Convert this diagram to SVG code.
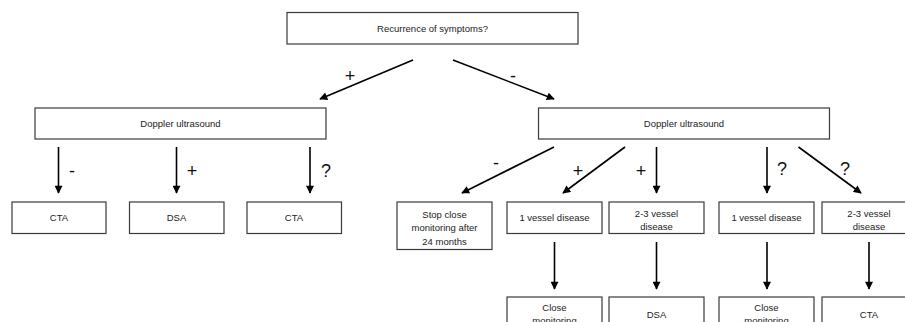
<svg xmlns="http://www.w3.org/2000/svg" width="905" height="322" viewBox="0 0 905 322">
<defs>
<style>
.box{fill:#fff;stroke:#3a3a3a;stroke-width:1.2}
.t{font-family:"Liberation Sans",Arial,sans-serif;font-size:9.5px;fill:#222;text-anchor:middle}
.lbl{font-family:"Liberation Sans",Arial,sans-serif;font-size:18px;fill:#111;text-anchor:middle}
.c{stroke:#000;stroke-width:1.6;fill:none;marker-end:url(#ah)}
</style>
<marker id="ah" viewBox="0 0 10 10" refX="9" refY="5" markerWidth="9" markerHeight="8" markerUnits="userSpaceOnUse" orient="auto">
<path d="M0,0 L10,5 L0,10 z" fill="#000"/>
</marker>
</defs>
<rect width="905" height="322" fill="#fff"/>
<g id="n-recurrence"><rect class="box" x="287" y="12.5" width="291" height="31.5"/><text class="t" x="432.5" y="31.5">Recurrence of symptoms?</text></g>
<g id="n-doppler-left"><rect class="box" x="35" y="108" width="291" height="31"/><text class="t" x="180.5" y="127">Doppler ultrasound</text></g>
<g id="n-doppler-right"><rect class="box" x="538.5" y="108" width="291" height="31"/><text class="t" x="684" y="127">Doppler ultrasound</text></g>
<g id="n-cta1"><rect class="box" x="12" y="202" width="94" height="31.5"/><text class="t" x="59" y="221">CTA</text></g>
<g id="n-dsa1"><rect class="box" x="129.5" y="202" width="94.5" height="31.5"/><text class="t" x="176.5" y="221">DSA</text></g>
<g id="n-cta2"><rect class="box" x="247" y="202" width="94.5" height="31.5"/><text class="t" x="294" y="221">CTA</text></g>
<g id="n-stop"><rect class="box" x="397" y="202" width="95" height="47.5"/><text class="t" x="444.5" y="217.5">Stop close</text><text class="t" x="444.5" y="231">monitoring after</text><text class="t" x="444.5" y="244.5">24 months</text></g>
<g id="n-1v-a"><rect class="box" x="507" y="202" width="95" height="31.5"/><text class="t" x="554.5" y="221">1 vessel disease</text></g>
<g id="n-23v-a"><rect class="box" x="609" y="202" width="95" height="31.5"/><text class="t" x="656.5" y="216.5">2-3 vessel</text><text class="t" x="656.5" y="229.5">disease</text></g>
<g id="n-1v-b"><rect class="box" x="719" y="202" width="95" height="31.5"/><text class="t" x="766.5" y="221">1 vessel disease</text></g>
<g id="n-23v-b"><rect class="box" x="822" y="202" width="95" height="31.5"/><text class="t" x="869" y="216.5">2-3 vessel</text><text class="t" x="869" y="229.5">disease</text></g>
<g id="n-close-a"><rect class="box" x="507" y="297" width="95" height="40"/><text class="t" x="554.5" y="311">Close</text><text class="t" x="554.5" y="324">monitoring</text></g>
<g id="n-dsa2"><rect class="box" x="609" y="297" width="95" height="40"/><text class="t" x="656.5" y="317.5">DSA</text></g>
<g id="n-close-b"><rect class="box" x="719" y="297" width="95" height="40"/><text class="t" x="766.5" y="311">Close</text><text class="t" x="766.5" y="324">monitoring</text></g>
<g id="n-cta3"><rect class="box" x="822" y="297" width="95" height="40"/><text class="t" x="869" y="317.5">CTA</text></g>
<g id="connectors">
<line class="c" x1="413" y1="60" x2="320" y2="99"/>
<line class="c" x1="453" y1="60" x2="554" y2="99"/>
<line class="c" x1="58.5" y1="147" x2="58.5" y2="193"/>
<line class="c" x1="176.5" y1="147" x2="176.5" y2="193"/>
<line class="c" x1="310" y1="147" x2="310" y2="193"/>
<line class="c" x1="554" y1="147" x2="462" y2="193"/>
<line class="c" x1="625" y1="147" x2="563" y2="193"/>
<line class="c" x1="656.5" y1="147" x2="656.5" y2="193"/>
<line class="c" x1="767" y1="147" x2="767" y2="193"/>
<line class="c" x1="798.5" y1="147" x2="861" y2="193"/>
<line class="c" x1="554.5" y1="242" x2="554.5" y2="289"/>
<line class="c" x1="656.5" y1="242" x2="656.5" y2="289"/>
<line class="c" x1="767" y1="242" x2="767" y2="289"/>
<line class="c" x1="869" y1="242" x2="869" y2="289"/>
<text class="lbl" x="350" y="82">+</text>
<text class="lbl" x="513" y="82">-</text>
<text class="lbl" x="72" y="177">-</text>
<text class="lbl" x="192" y="177">+</text>
<text class="lbl" x="326" y="177">?</text>
<text class="lbl" x="496" y="169">-</text>
<text class="lbl" x="578" y="177">+</text>
<text class="lbl" x="641" y="177">+</text>
<text class="lbl" x="782" y="175">?</text>
<text class="lbl" x="845" y="175">?</text>
</g>
</svg>
